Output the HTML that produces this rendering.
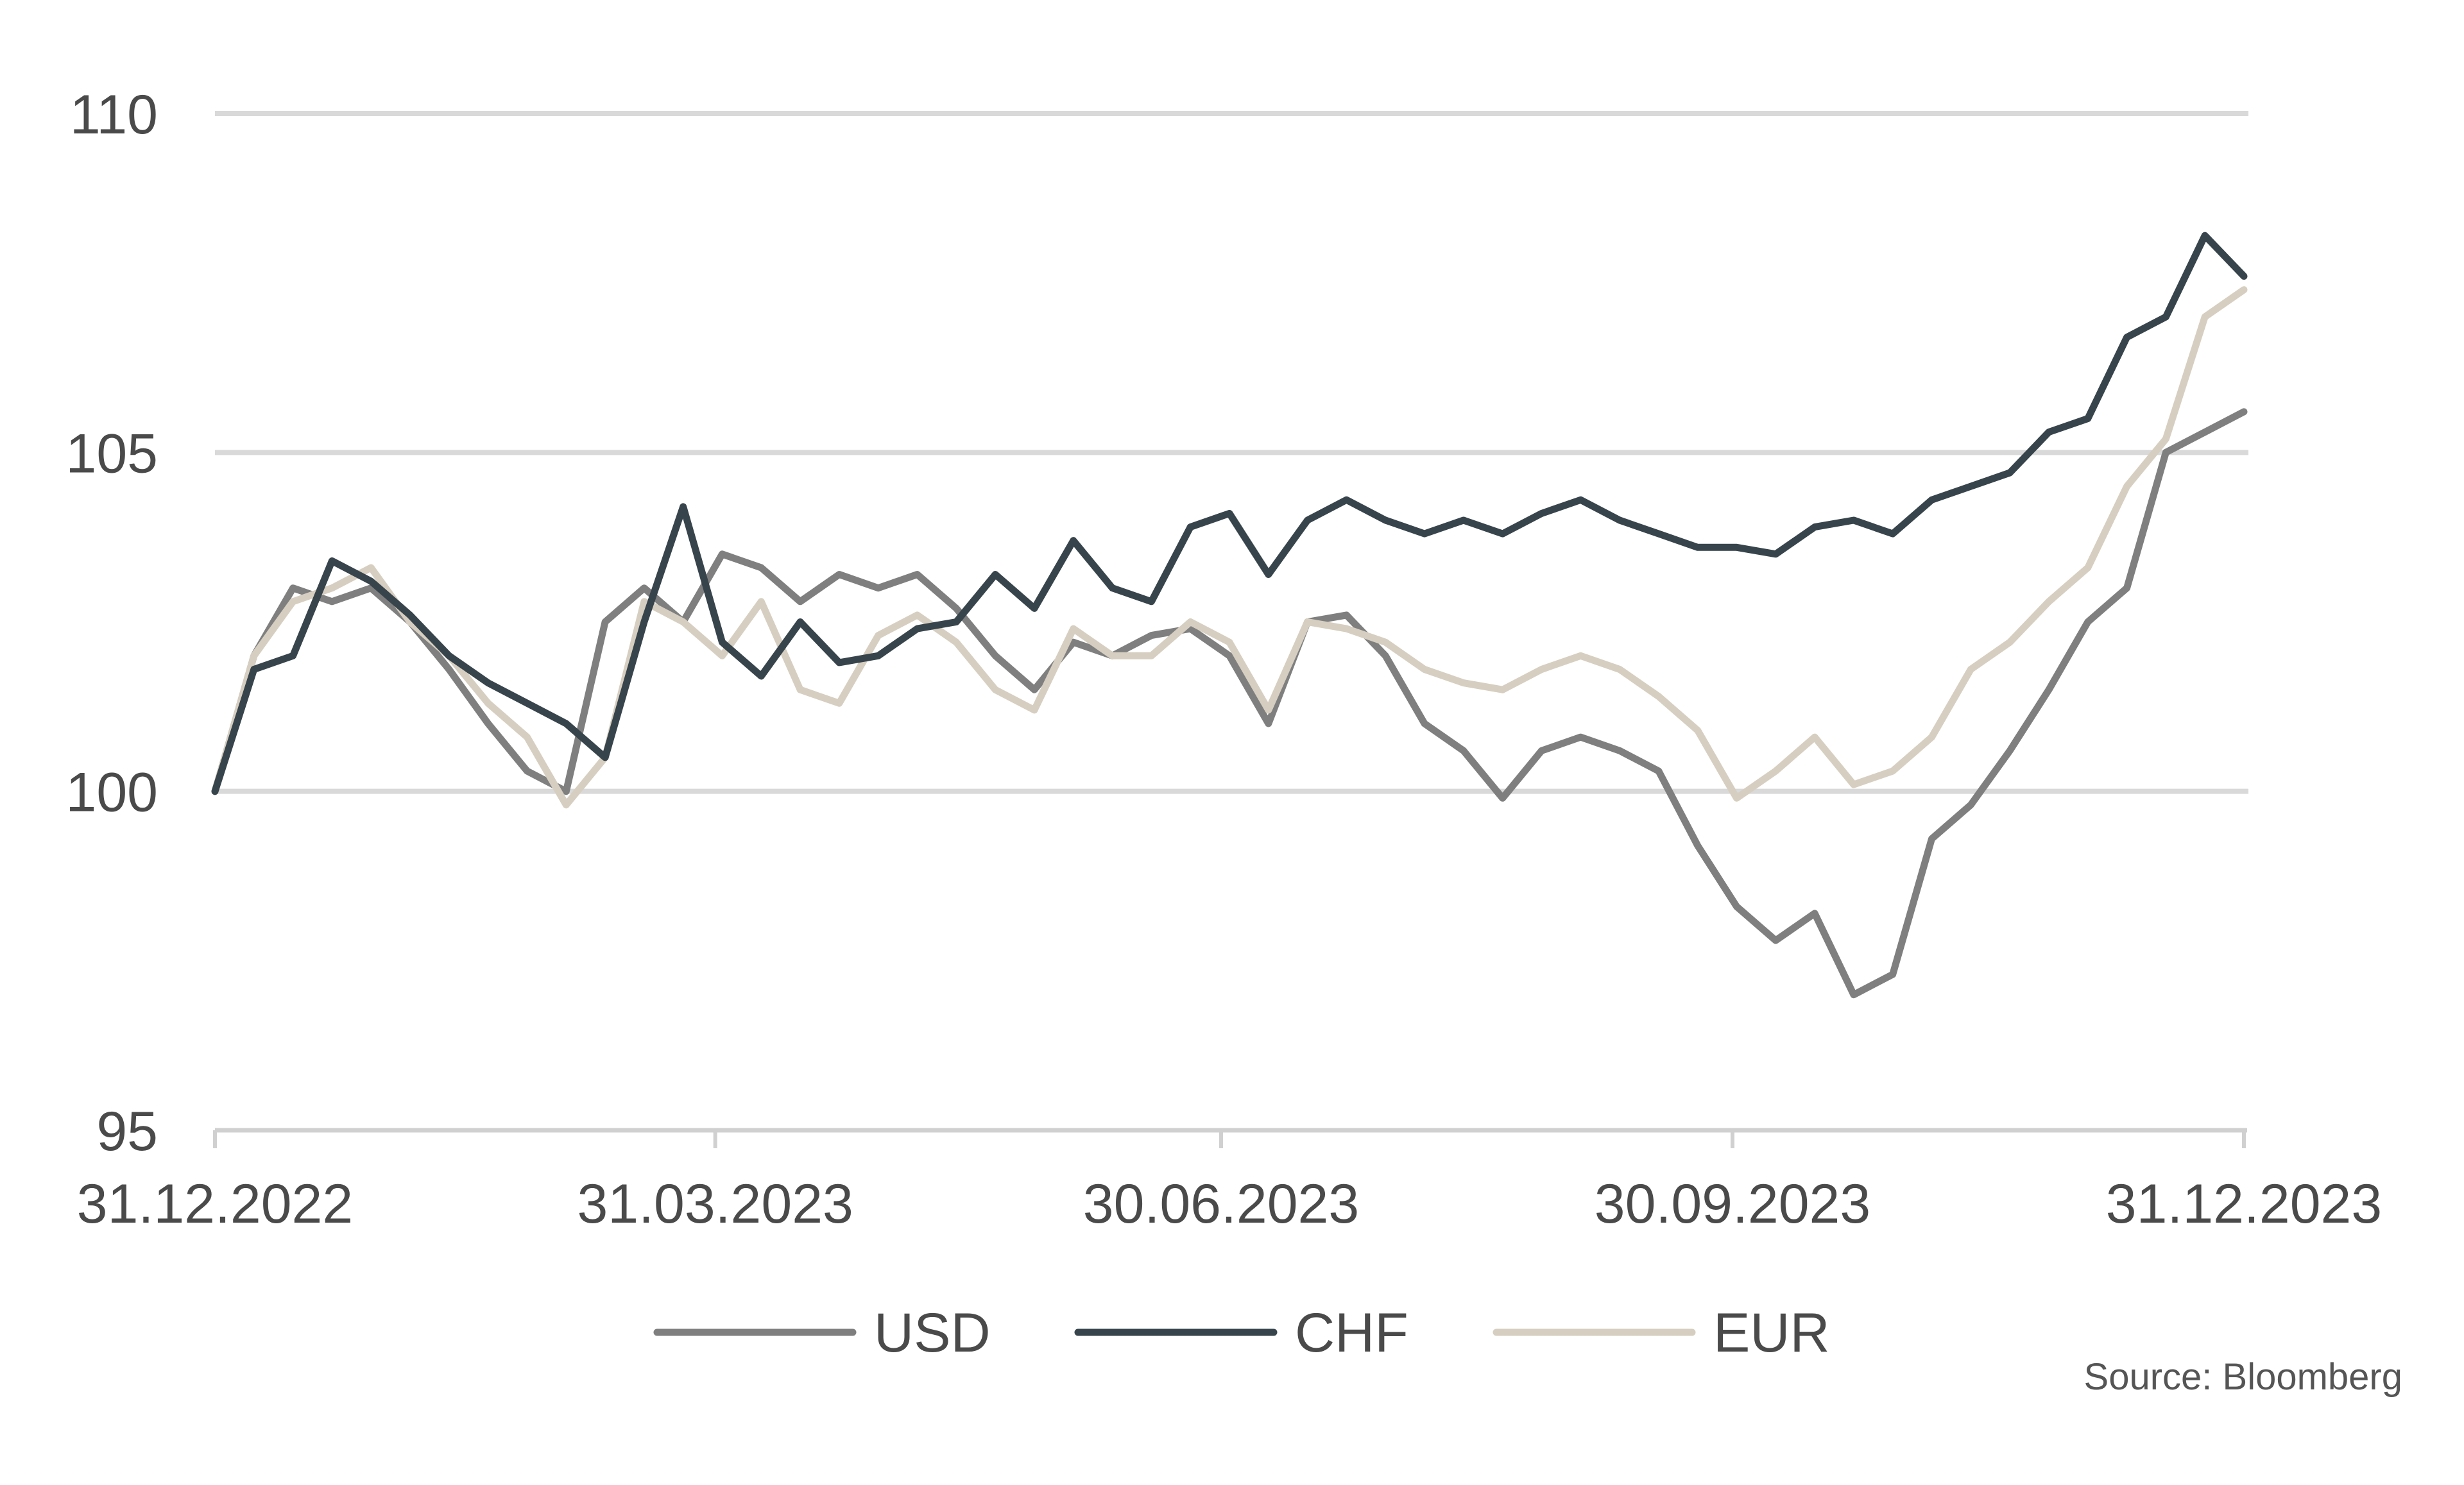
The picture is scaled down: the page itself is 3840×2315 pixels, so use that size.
<!DOCTYPE html>
<html><head><meta charset="utf-8"><style>
html,body{margin:0;padding:0;background:#fff;}
svg{display:block;font-family:"Liberation Sans",Arial,sans-serif;}
</style></head><body>
<svg id="chart" width="3840" height="2315" viewBox="0 0 3840 2315" xmlns="http://www.w3.org/2000/svg">
<g id="grid"></g>
<g id="axes"></g>
<g id="series"></g>
<g id="legend"></g>
<text x="3744" y="2166" text-anchor="end" font-size="58" fill="#555">Source: Bloomberg</text>
</svg>
<script>
const yTicks = [95, 100, 105, 110];
const xTickLabels = ["31.12.2022", "31.03.2023", "30.06.2023", "30.09.2023", "31.12.2023"];
const xTickDays = [0, 90, 181, 273, 365];
const seriesNames = ["USD", "CHF", "EUR"];
const usd = [100,102,103,102.8,103,102.5,101.8,101,100.3,100,102.5,103,102.5,103.5,103.3,102.8,103.2,103,103.2,102.7,102,101.5,102.2,102,102.3,102.4,102,101,102.5,102.6,102,101,100.6,99.9,100.6,100.8,100.6,100.3,99.2,98.3,97.8,98.2,97,97.3,99.3,99.8,100.6,101.5,102.5,103,105,105.3,105.6];
const chf = [100,101.8,102,103.4,103.1,102.6,102,101.6,101.3,101,100.5,102.5,104.2,102.2,101.7,102.5,101.9,102,102.4,102.5,103.2,102.7,103.7,103,102.8,103.9,104.1,103.2,104,104.3,104,103.8,104,103.8,104.1,104.3,104,103.8,103.6,103.6,103.5,103.9,104,103.8,104.3,104.5,104.7,105.3,105.5,106.7,107,108.2,107.6];
const eur = [100,102,102.8,103,103.3,102.5,102,101.3,100.8,99.8,100.5,102.8,102.5,102,102.8,101.5,101.3,102.3,102.6,102.2,101.5,101.2,102.4,102,102,102.5,102.2,101.2,102.5,102.4,102.2,101.8,101.6,101.5,101.8,102,101.8,101.4,100.9,99.9,100.3,100.8,100.1,100.3,100.8,101.8,102.2,102.8,103.3,104.5,105.2,107,107.4];
const colors = ["#7f7f7f", "#37444b", "#d6cec0"];

const X0 = 335, X1 = 3497, Y95 = 1762, Y110 = 177;
const xDay = d => X0 + d / 365 * (X1 - X0);
const xIdx = (i, n) => X0 + i / (n - 1) * (X1 - X0);
const yVal = v => Y95 + (v - 95) / 15 * (Y110 - Y95);
const NS = "http://www.w3.org/2000/svg";
function mk(tag, attrs, parent) { const e = document.createElementNS(NS, tag); for (const k in attrs) e.setAttribute(k, attrs[k]); parent.appendChild(e); return e; }

const grid = document.getElementById('grid'), axes = document.getElementById('axes');
yTicks.forEach(v => {
  if (v !== 95) {
    const l = mk('line', {x1: X0, x2: 3504, y1: yVal(v), y2: yVal(v), stroke: '#d9d9d9', 'stroke-width': 8}, grid);
    
    
  }
  const t = mk('text', {x: 246, y: yVal(v) + 31, 'text-anchor': 'end', 'font-size': 86, fill: '#4a4a4a'}, axes);
  t.textContent = v;
  
  
});
const ax = mk('line', {x1: X0, x2: 3502, y1: Y95, y2: Y95, stroke: '#d0d0d0', 'stroke-width': 7}, axes);


xTickDays.forEach((d, i) => {
  const tk = mk('line', {x1: xDay(d), x2: xDay(d), y1: Y95, y2: Y95 + 28, stroke: '#d0d0d0', 'stroke-width': 6}, axes);
  
  
  const t = mk('text', {x: xDay(d), y: 1906, 'text-anchor': 'middle', 'font-size': 86, fill: '#4a4a4a'}, axes);
  t.textContent = xTickLabels[i];
  
  
});

const ser = document.getElementById('series');
[usd, eur, chf].forEach(arr => {
  const idx = arr === usd ? 0 : arr === chf ? 1 : 2;
  const pts = arr.map((v, i) => xIdx(i, arr.length).toFixed(1) + ',' + yVal(v).toFixed(1)).join(' ');
  const p = mk('polyline', {points: pts, fill: 'none', stroke: colors[idx], 'stroke-width': 11, 'stroke-linejoin': 'round', 'stroke-linecap': 'round'}, ser);
  
  
});

const lg = document.getElementById('legend');
const lx = [1024, 1680, 2332];
seriesNames.forEach((n, i) => {
  const l = mk('line', {x1: lx[i], x2: lx[i] + 305, y1: 2077, y2: 2077, stroke: colors[i], 'stroke-width': 11, 'stroke-linecap': 'round'}, lg);
  
  
  const t = mk('text', {x: lx[i] + 338, y: 2107, 'font-size': 86, fill: '#4a4a4a'}, lg);
  t.textContent = n;
  
  
});
</script>
</body></html>
